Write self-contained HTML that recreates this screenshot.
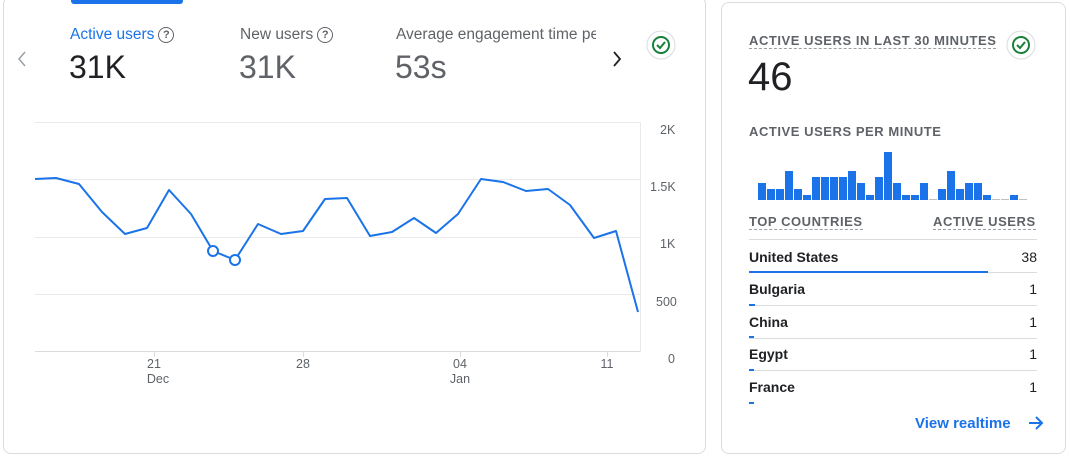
<!DOCTYPE html>
<html><head><style>
body{margin:0;width:1070px;height:456px;background:#fff;font-family:"Liberation Sans",sans-serif;position:relative;overflow:hidden}
.a{position:absolute;white-space:nowrap}
.card{position:absolute;border:1px solid #dadce0;border-radius:8px;background:#fff}
.h{font-size:13px;color:#5f6368;letter-spacing:.55px;font-weight:600}
.c{font-size:14px;color:#202124;font-weight:600}
.q{display:inline-block;width:14px;height:14px;border:1.6px solid #5f6368;border-radius:50%;font-size:11px;line-height:14px;text-align:center;color:#5f6368;font-weight:bold;vertical-align:1px;margin-left:4px}
</style></head><body>
<div class="card" style="left:3px;top:-4px;width:701px;height:456px"></div>
<div class="card" style="left:721px;top:2px;width:343px;height:450px"></div>
<div class="a" style="left:71px;top:-3px;width:112px;height:7px;background:#1a73e8;border-radius:0 0 3px 3px"></div>
<div class="a" style="left:70px;top:26px;font-size:15.5px;color:#1a73e8">Active users<span class="q">?</span></div>
<div class="a" style="left:240px;top:26px;font-size:15.5px;color:#5f6368">New users<span class="q">?</span></div>
<div class="a" style="left:396px;top:26px;font-size:15.5px;color:#5f6368;width:200px;overflow:hidden">Average engagement time per</div>
<div class="a" style="left:69px;top:49px;font-size:32px;color:#202124">31K</div>
<div class="a" style="left:239px;top:49px;font-size:32px;color:#5f6368">31K</div>
<div class="a" style="left:395px;top:49px;font-size:32px;color:#5f6368">53s</div>
<div class="a h" style="left:749px;top:33px;border-bottom:1px dashed #9aa0a6">ACTIVE USERS IN LAST 30 MINUTES</div>
<div class="a" style="left:748px;top:55px;font-size:40px;color:#202124">46</div>
<div class="a h" style="left:749px;top:124px">ACTIVE USERS PER MINUTE</div>
<div class="a h" style="left:749px;top:214px;border-bottom:1px dashed #9aa0a6">TOP COUNTRIES</div>
<div class="a h" style="left:933px;top:214px;border-bottom:1px dashed #9aa0a6">ACTIVE USERS</div>
<div class="a c" style="left:749px;top:249px">United States</div><div class="a" style="left:1000px;width:37px;text-align:right;top:249px;font-size:14px;color:#202124">38</div>
<div class="a c" style="left:749px;top:281px">Bulgaria</div><div class="a" style="left:1000px;width:37px;text-align:right;top:281px;font-size:14px;color:#202124">1</div>
<div class="a c" style="left:749px;top:314px">China</div><div class="a" style="left:1000px;width:37px;text-align:right;top:314px;font-size:14px;color:#202124">1</div>
<div class="a c" style="left:749px;top:346px">Egypt</div><div class="a" style="left:1000px;width:37px;text-align:right;top:346px;font-size:14px;color:#202124">1</div>
<div class="a c" style="left:749px;top:379px">France</div><div class="a" style="left:1000px;width:37px;text-align:right;top:379px;font-size:14px;color:#202124">1</div>
<div class="a" style="left:915px;top:415px;font-size:15px;color:#1a73e8;font-weight:600">View realtime</div>
<svg class="a" style="left:0;top:0" width="1070" height="456">
<g font-family="Liberation Sans" font-size="12.5" fill="#5f6368">
<text x="660" y="134">2K</text><text x="650" y="191">1.5K</text><text x="660" y="248">1K</text><text x="656" y="306">500</text><text x="668" y="363">0</text>
<text x="154" y="368" text-anchor="middle">21</text><text x="158" y="383" text-anchor="middle">Dec</text>
<text x="303" y="368" text-anchor="middle">28</text>
<text x="460" y="368" text-anchor="middle">04</text><text x="460" y="383" text-anchor="middle">Jan</text>
<text x="607" y="368" text-anchor="middle">11</text>
</g>
<g stroke="#e8eaed" stroke-width="1">
<line x1="35" y1="122.5" x2="640" y2="122.5"/><line x1="35" y1="179.5" x2="640" y2="179.5"/><line x1="35" y1="237.5" x2="640" y2="237.5"/><line x1="35" y1="294.5" x2="640" y2="294.5"/>
<line x1="640.5" y1="122" x2="640.5" y2="352"/>
</g>
<line x1="35" y1="351.5" x2="640" y2="351.5" stroke="#dadce0"/>
<g stroke="#dadce0"><line x1="154.5" y1="352" x2="154.5" y2="357"/><line x1="303.5" y1="352" x2="303.5" y2="357"/><line x1="460.5" y1="352" x2="460.5" y2="357"/><line x1="607.5" y1="352" x2="607.5" y2="357"/></g>
<polyline fill="none" stroke="#1a73e8" stroke-width="2" stroke-linejoin="round" points="35,179 56,178 79,184 102,212 125,234 147,228 169,190 191,214 213,251 235,260 258,224 281,234 303,231 325,199 347,198 370,236 392,232 414,218 436,233 458,214 481,179 503,182 526,191 548,189 570,205 594,238 616,231 638,312"/>
<circle cx="213" cy="251" r="5" fill="#fff" stroke="#1a73e8" stroke-width="2"/>
<circle cx="235" cy="260" r="5" fill="#fff" stroke="#1a73e8" stroke-width="2"/>
<path d="M25 52 L19 59 L25 66" fill="none" stroke="#9aa0a6" stroke-width="1.5"/>
<path d="M614 52 L620 59 L614 66" fill="none" stroke="#202124" stroke-width="1.8"/>
<circle cx="661" cy="45" r="14" fill="#fff" stroke="#dadce0"/>
<circle cx="661" cy="45" r="8" fill="none" stroke="#188038" stroke-width="2"/><path d="M657 45 L660 48 L665 42" fill="none" stroke="#188038" stroke-width="2"/>
<circle cx="1021" cy="45" r="14" fill="#fff" stroke="#dadce0"/>
<circle cx="1021" cy="45" r="8" fill="none" stroke="#188038" stroke-width="2"/><path d="M1017 45 L1020 48 L1025 42" fill="none" stroke="#188038" stroke-width="2"/>
<g stroke="#dadce0"><line x1="749" y1="239.5" x2="1037" y2="239.5"/><line x1="749" y1="272.5" x2="1037" y2="272.5"/><line x1="749" y1="305.5" x2="1037" y2="305.5"/><line x1="749" y1="338.5" x2="1037" y2="338.5"/><line x1="749" y1="370.5" x2="1037" y2="370.5"/></g>
<g fill="#1a73e8"><rect x="749" y="271" width="239" height="2"/><rect x="749" y="304" width="6" height="2"/><rect x="749" y="336" width="5" height="2"/><rect x="749" y="369" width="5" height="2"/><rect x="749" y="402" width="5" height="2"/></g>
<path d="M1029 423 H1042 M1036 417 L1042 423 L1036 429" fill="none" stroke="#1a73e8" stroke-width="2"/>
<g>
<rect x="758" y="183" width="8" height="17" fill="#1a73e8"/><rect x="767" y="189" width="8" height="11" fill="#1a73e8"/><rect x="776" y="189" width="8" height="11" fill="#1a73e8"/><rect x="785" y="171" width="8" height="29" fill="#1a73e8"/><rect x="794" y="189" width="8" height="11" fill="#1a73e8"/><rect x="803" y="195" width="8" height="5" fill="#1a73e8"/><rect x="812" y="177" width="8" height="23" fill="#1a73e8"/><rect x="821" y="177" width="8" height="23" fill="#1a73e8"/><rect x="830" y="177" width="8" height="23" fill="#1a73e8"/><rect x="839" y="177" width="8" height="23" fill="#1a73e8"/><rect x="848" y="171" width="8" height="29" fill="#1a73e8"/><rect x="857" y="183" width="8" height="17" fill="#1a73e8"/><rect x="866" y="195" width="8" height="5" fill="#1a73e8"/><rect x="875" y="177" width="8" height="23" fill="#1a73e8"/><rect x="884" y="152" width="8" height="48" fill="#1a73e8"/><rect x="893" y="183" width="8" height="17" fill="#1a73e8"/><rect x="902" y="195" width="8" height="5" fill="#1a73e8"/><rect x="911" y="195" width="8" height="5" fill="#1a73e8"/><rect x="920" y="183" width="8" height="17" fill="#1a73e8"/><rect x="929" y="199" width="8" height="1" fill="#bdc1c6"/><rect x="938" y="189" width="8" height="11" fill="#1a73e8"/><rect x="947" y="171" width="8" height="29" fill="#1a73e8"/><rect x="956" y="189" width="8" height="11" fill="#1a73e8"/><rect x="965" y="183" width="8" height="17" fill="#1a73e8"/><rect x="974" y="183" width="8" height="17" fill="#1a73e8"/><rect x="983" y="195" width="8" height="5" fill="#1a73e8"/><rect x="992" y="199" width="8" height="1" fill="#bdc1c6"/><rect x="1001" y="199" width="8" height="1" fill="#bdc1c6"/><rect x="1010" y="195" width="8" height="5" fill="#1a73e8"/><rect x="1019" y="199" width="8" height="1" fill="#bdc1c6"/>
</g>
</svg>
</body></html>
